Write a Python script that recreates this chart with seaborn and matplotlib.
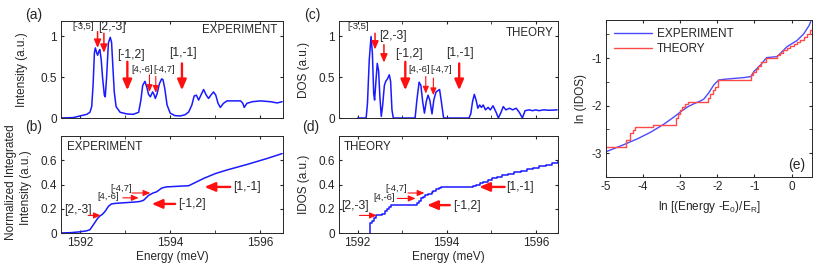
import numpy as np
import seaborn as sns
import matplotlib.pyplot as plt
from matplotlib.ticker import MultipleLocator

# ---- data ----
# (a) measured spectrum
exp_energy = [1591.56, 1591.85, 1592.00, 1592.15, 1592.22, 1592.26, 1592.29, 1592.32, 1592.34, 1592.37,
              1592.39, 1592.42, 1592.44, 1592.47, 1592.50, 1592.54, 1592.56, 1592.59, 1592.63, 1592.67,
              1592.70, 1592.73, 1592.76, 1592.80, 1592.89, 1593.04, 1593.18, 1593.30, 1593.35, 1593.39,
              1593.44, 1593.48, 1593.52, 1593.56, 1593.61, 1593.64, 1593.67, 1593.71, 1593.76, 1593.81,
              1593.84, 1593.88, 1593.93, 1594.00, 1594.10, 1594.22, 1594.33, 1594.41, 1594.48, 1594.53,
              1594.58, 1594.63, 1594.68, 1594.74, 1594.80, 1594.85, 1594.90, 1594.96, 1595.01, 1595.06,
              1595.11, 1595.18, 1595.26, 1595.41, 1595.56, 1595.61, 1595.64, 1595.70, 1595.82, 1596.00,
              1596.22, 1596.37, 1596.48]
exp_intensity = [0.0, 0.005, 0.025, 0.045, 0.07, 0.14, 0.40, 0.80, 0.86, 0.80,
                 0.77, 0.82, 0.84, 0.72, 0.50, 0.28, 0.26, 0.50, 0.92, 0.99,
                 0.93, 0.62, 0.32, 0.14, 0.07, 0.05, 0.045, 0.07, 0.22, 0.40,
                 0.45, 0.38, 0.29, 0.26, 0.32, 0.29, 0.24, 0.30, 0.42, 0.48,
                 0.47, 0.36, 0.16, 0.06, 0.03, 0.025, 0.04, 0.075, 0.16, 0.27,
                 0.28, 0.22, 0.28, 0.35, 0.28, 0.24, 0.28, 0.32, 0.28, 0.18,
                 0.13, 0.18, 0.21, 0.21, 0.21, 0.18, 0.13, 0.18, 0.20, 0.21,
                 0.20, 0.185, 0.20]

# (c) calculated density of states
th_energy = [1592.00, 1592.19, 1592.22, 1592.26, 1592.30, 1592.33, 1592.36, 1592.38, 1592.41, 1592.44,
             1592.47, 1592.50, 1592.53, 1592.56, 1592.60, 1592.63, 1592.67, 1592.71, 1592.74, 1592.77,
             1592.80, 1593.29, 1593.33, 1593.38, 1593.42, 1593.46, 1593.50, 1593.54, 1593.58, 1593.62,
             1593.67, 1593.71, 1593.76, 1593.84, 1593.88, 1593.93, 1594.50, 1594.54, 1594.58, 1594.62,
             1594.66, 1594.70, 1594.74, 1594.78, 1594.82, 1594.87, 1594.93, 1594.98, 1595.04, 1595.11,
             1595.16, 1595.22, 1595.27, 1595.33, 1595.41, 1595.48, 1595.56, 1595.63, 1595.70, 1595.76,
             1595.85, 1595.93, 1596.00, 1596.07, 1596.18, 1596.30, 1596.48]
th_dos = [0.0, 0.0, 0.18, 0.71, 1.0, 0.80, 0.30, 0.22, 0.45, 0.67,
          0.58, 0.25, 0.02, 0.15, 0.40, 0.45, 0.48, 0.53, 0.45, 0.10,
          0.0, 0.0, 0.22, 0.44, 0.40, 0.20, 0.06, 0.20, 0.28, 0.22,
          0.05, 0.22, 0.32, 0.35, 0.20, 0.0, 0.0, 0.05, 0.20, 0.29,
          0.22, 0.12, 0.16, 0.13, 0.16, 0.10, 0.13, 0.10, 0.15, 0.07,
          0.0, 0.07, 0.14, 0.10, 0.12, 0.10, 0.12, 0.07, 0.0, 0.09,
          0.10, 0.09, 0.10, 0.09, 0.10, 0.095, 0.10]

# (b) normalized integrated intensity
int_energy = [1591.56, 1591.80, 1592.00, 1592.15, 1592.22, 1592.30, 1592.39, 1592.44, 1592.50, 1592.56,
              1592.63, 1592.70, 1592.80, 1593.00, 1593.20, 1593.33, 1593.41, 1593.52, 1593.62, 1593.70,
              1593.81, 1593.91, 1594.15, 1594.41, 1594.52, 1594.74, 1595.00, 1595.26, 1595.70, 1596.15,
              1596.48]
int_intensity = [0.0, 0.003, 0.01, 0.018, 0.027, 0.07, 0.12, 0.14, 0.155, 0.18,
                 0.22, 0.24, 0.245, 0.25, 0.255, 0.26, 0.27, 0.31, 0.33, 0.34,
                 0.37, 0.38, 0.385, 0.39, 0.41, 0.45, 0.49, 0.52, 0.565, 0.615,
                 0.655]

# (d) calculated integrated DOS (staircase)
idos_energy = [1592.27, 1592.27, 1592.32, 1592.36, 1592.42, 1592.54, 1592.62, 1592.65, 1592.70, 1592.74,
               1593.34, 1593.38, 1593.43, 1593.46, 1593.52, 1593.57, 1593.66, 1593.70, 1593.76, 1593.82,
               1593.88, 1594.60, 1594.66, 1594.74, 1594.82, 1594.92, 1595.02, 1595.12, 1595.24, 1595.38,
               1595.52, 1595.66, 1595.80, 1595.94, 1596.08, 1596.22, 1596.36, 1596.50]
idos = [0.0, 0.08, 0.10, 0.12, 0.145, 0.16, 0.18, 0.20, 0.215, 0.235,
        0.25, 0.265, 0.285, 0.30, 0.31, 0.325, 0.335, 0.35, 0.36, 0.37,
        0.38, 0.39, 0.40, 0.41, 0.42, 0.435, 0.45, 0.465, 0.475, 0.49,
        0.50, 0.515, 0.525, 0.54, 0.55, 0.565, 0.58, 0.59]

# (e) log-log integrated DOS
ln_e_exp = [-5.0, -4.52, -4.16, -3.80, -3.44, -3.17, -2.99, -2.81, -2.63, -2.45,
            -2.36, -2.23, -2.09, -1.96, -1.73, -1.28, -1.10, -1.01, -0.83, -0.67,
            -0.39, -0.30, -0.12, 0.15, 0.33, 0.47, 0.52]
ln_idos_exp = [-2.97, -2.82, -2.70, -2.56, -2.39, -2.24, -2.13, -2.03, -1.96, -1.90,
               -1.86, -1.73, -1.56, -1.46, -1.44, -1.41, -1.39, -1.28, -1.14, -0.99,
               -0.97, -0.90, -0.76, -0.63, -0.49, -0.32, -0.23]
ln_e_th = [-5.0, -4.46, -4.34, -4.28, -4.22, -3.74, -3.11, -3.06, -3.00, -2.94,
           -2.86, -2.80, -2.25, -2.19, -2.12, -2.06, -1.98, -1.08, -1.03, -0.96,
           -0.90, -0.82, -0.70, -0.38, -0.30, -0.22, -0.12, -0.03, 0.06, 0.15,
           0.24, 0.33, 0.42, 0.50, 0.56]
ln_idos_th = [-2.87, -2.73, -2.58, -2.52, -2.44, -2.40, -2.26, -2.18, -2.10, -2.03,
              -1.97, -1.93, -1.84, -1.76, -1.68, -1.60, -1.46, -1.36, -1.29, -1.24,
              -1.17, -1.09, -0.99, -0.94, -0.90, -0.84, -0.79, -0.74, -0.70, -0.66,
              -0.61, -0.56, -0.49, -0.42, -0.40]

# peak labels and where they sit
labels_top = ['[-3,5]', '[2,-3]', '[-1,2]', '[4,-6]', '[-4,7]', '[1,-1]']
label_size_top = ['s', 'b', 'b', 's', 's', 'b']
arrow_size_top = ['m', 'm', 'b', 's', 's', 'b']
# (text x, text y, arrow x, arrow from y, arrow to y)
ann_a = [(1592.07, 1.12, 1592.39, 1.06, 0.86), (1592.70, 1.12, 1592.53, 1.04, 0.80),
         (1593.12, 0.77, 1593.05, 0.69, 0.34), (1593.38, 0.59, 1593.54, 0.53, 0.32),
         (1593.87, 0.59, 1593.68, 0.51, 0.31), (1594.29, 0.80, 1594.26, 0.67, 0.34)]
ann_c = [(1592.02, 1.12, 1592.39, 1.04, 0.84), (1592.80, 1.00, 1592.59, 0.90, 0.68),
         (1593.15, 0.79, 1593.07, 0.69, 0.34), (1593.38, 0.59, 1593.53, 0.51, 0.30),
         (1593.88, 0.59, 1593.70, 0.49, 0.28), (1594.29, 0.80, 1594.28, 0.67, 0.34)]

labels_bot = ['[2,-3]', '[4,-6]', '[-4,7]', '[-1,2]', '[1,-1]']
label_size_bot = ['b', 's', 's', 'b', 'b']
arrow_size_bot = ['s', 's', 's', 'b', 'b']
# (text x, text y, arrow y, arrow from x, arrow to x)
ann_b = [(1591.96, 0.19, 0.145, 1592.18, 1592.46), (1592.63, 0.30, 0.29, 1592.95, 1593.30),
         (1592.91, 0.37, 0.33, 1593.15, 1593.56), (1594.48, 0.24, 0.24, 1594.11, 1593.59),
         (1595.70, 0.38, 0.38, 1595.33, 1594.76)]
ann_d = [(1591.94, 0.22, 0.145, 1592.04, 1592.43), (1592.59, 0.29, 0.285, 1592.89, 1593.30),
         (1592.87, 0.37, 0.33, 1593.13, 1593.50), (1594.45, 0.225, 0.23, 1594.07, 1593.56),
         (1595.64, 0.38, 0.38, 1595.30, 1594.73)]

# ---- style ----
sns.set_style("ticks")
plt.rcParams['font.family'] = ['Liberation Sans', 'DejaVu Sans']
plt.rcParams['axes.unicode_minus'] = False
plt.rcParams['mathtext.default'] = 'regular'
plt.rcParams['xtick.direction'] = 'in'
plt.rcParams['ytick.direction'] = 'in'
plt.rcParams['xtick.top'] = True
plt.rcParams['ytick.right'] = True
plt.rcParams['xtick.major.size'] = 2.5
plt.rcParams['ytick.major.size'] = 2.5
plt.rcParams['xtick.minor.size'] = 2.5
plt.rcParams['ytick.minor.size'] = 2.5
plt.rcParams['xtick.major.pad'] = 3
plt.rcParams['ytick.major.pad'] = 3
plt.rcParams['axes.linewidth'] = 0.7
plt.rcParams['xtick.labelsize'] = 8.5
plt.rcParams['ytick.labelsize'] = 8.5
plt.rcParams['axes.labelsize'] = 8.5

BLUE = '#1a1aff'
RED = '#ff1010'
FS = {'s': 6.8, 'b': 8.8}
ARW = {'s': (0.8, 6), 'm': (1.1, 7), 'b': (1.7, 9)}

fig = plt.figure(figsize=(8.17, 2.69), dpi=100)
ax_a = fig.add_axes([0.0747, 0.5613, 0.2717, 0.3606])
ax_b = fig.add_axes([0.0747, 0.1338, 0.2717, 0.3606])
ax_c = fig.add_axes([0.4149, 0.5613, 0.2681, 0.3606])
ax_d = fig.add_axes([0.4149, 0.1338, 0.2681, 0.3606])
ax_e = fig.add_axes([0.7417, 0.3420, 0.2521, 0.5836])


def arrow(ax, tail, head, size):
    lw, ms = ARW[size]
    ax.annotate('', xy=head, xytext=tail,
                arrowprops=dict(arrowstyle='-|>,head_length=0.7,head_width=0.3',
                                color=RED, lw=lw, mutation_scale=ms,
                                shrinkA=0, shrinkB=0))


def energy_axis(ax, ylim, yticks, ylabels, show_x):
    ax.set_xlim(1591.58, 1596.5)
    ax.set_ylim(*ylim)
    ax.set_xticks([1592, 1594, 1596])
    ax.xaxis.set_minor_locator(MultipleLocator(1))
    ax.set_yticks(yticks)
    ax.set_yticklabels(ylabels)
    if show_x:
        ax.set_xticklabels(['1592', '1594', '1596'])
        ax.set_xlabel('Energy (meV)', labelpad=1)
    else:
        ax.set_xticklabels([])
        ax.set_xlabel('')


# (a) experiment spectrum
sns.lineplot(x=exp_energy, y=exp_intensity, ax=ax_a, color=BLUE, lw=1.1, estimator=None, sort=False)
energy_axis(ax_a, (0, 1.19), [0, 0.5, 1], ['0', '0.5', '1'], False)
ax_a.set_ylabel('Intensity (a.u.)')
ax_a.yaxis.set_label_coords(-0.15, 0.5)
ax_a.text(0.975, 0.905, 'EXPERIMENT', transform=ax_a.transAxes, ha='right', va='center', fontsize=8.3)
for lab, ls, asz, (tx, ty, axx, y0, y1) in zip(labels_top, label_size_top, arrow_size_top, ann_a):
    ax_a.text(tx, ty, lab, ha='center', va='center', fontsize=FS[ls])
    arrow(ax_a, (axx, y0), (axx, y1), asz)

# (c) theory DOS
sns.lineplot(x=th_energy, y=th_dos, ax=ax_c, color=BLUE, lw=1.1, estimator=None, sort=False)
energy_axis(ax_c, (0, 1.19), [0, 0.5, 1], ['0', '0.5', '1'], False)
ax_c.set_ylabel('DOS (a.u.)')
ax_c.yaxis.set_label_coords(-0.13, 0.5)
ax_c.text(0.98, 0.876, 'THEORY', transform=ax_c.transAxes, ha='right', va='center', fontsize=8.3)
for lab, ls, asz, (tx, ty, axx, y0, y1) in zip(labels_top, label_size_top, arrow_size_top, ann_c):
    ax_c.text(tx, ty, lab, ha='center', va='center', fontsize=FS[ls])
    arrow(ax_c, (axx, y0), (axx, y1), asz)

# (b) integrated intensity
sns.lineplot(x=int_energy, y=int_intensity, ax=ax_b, color=BLUE, lw=1.1, estimator=None, sort=False)
energy_axis(ax_b, (0, 0.8), [0, 0.2, 0.4, 0.6], ['0', '0.2', '0.4', '0.6'], True)
ax_b.set_ylabel('')
# two-line y label written as two rotated texts
ax_b.text(-0.225, 0.52, 'Normalized Integrated', transform=ax_b.transAxes, rotation=90,
          ha='center', va='center', fontsize=8.5)
ax_b.text(-0.16, 0.47, 'Intensity (a.u.)', transform=ax_b.transAxes, rotation=90,
          ha='center', va='center', fontsize=8.5)
ax_b.text(0.025, 0.89, 'EXPERIMENT', transform=ax_b.transAxes, ha='left', va='center', fontsize=8.3)
for lab, ls, asz, (tx, ty, ay, x0, x1) in zip(labels_bot, label_size_bot, arrow_size_bot, ann_b):
    ax_b.text(tx, ty, lab, ha='center', va='center', fontsize=FS[ls])
    arrow(ax_b, (x0, ay), (x1, ay), asz)

# (d) theory IDOS
sns.lineplot(x=idos_energy, y=idos, ax=ax_d, color=BLUE, lw=1.1, estimator=None, sort=False,
             drawstyle='steps-post')
energy_axis(ax_d, (0, 0.8), [0, 0.2, 0.4, 0.6], ['0', '0.2', '0.4', '0.6'], True)
ax_d.set_ylabel('IDOS (a.u.)')
ax_d.yaxis.set_label_coords(-0.13, 0.5)
ax_d.text(0.02, 0.89, 'THEORY', transform=ax_d.transAxes, ha='left', va='center', fontsize=8.3)
for lab, ls, asz, (tx, ty, ay, x0, x1) in zip(labels_bot, label_size_bot, arrow_size_bot, ann_d):
    ax_d.text(tx, ty, lab, ha='center', va='center', fontsize=FS[ls])
    arrow(ax_d, (x0, ay), (x1, ay), asz)

# (e) log-log comparison
sns.lineplot(x=ln_e_exp, y=ln_idos_exp, ax=ax_e, color='#4a4aff', lw=1.0, estimator=None, sort=False,
             label='EXPERIMENT')
sns.lineplot(x=ln_e_th, y=ln_idos_th, ax=ax_e, color='#ff4a4a', lw=1.0, estimator=None, sort=False,
             drawstyle='steps-post', label='THEORY')
ax_e.set_xlim(-5, 0.55)
ax_e.set_ylim(-3.5, -0.2)
ax_e.set_xticks([-5, -4, -3, -2, -1, 0])
ax_e.set_xticklabels(['-5', '-4', '-3', '-2', '-1', '0'])
ax_e.set_yticks([-3, -2, -1])
ax_e.set_yticklabels(['-3', '-2', '-1'])
ax_e.yaxis.set_minor_locator(MultipleLocator(0.5))
ax_e.set_xlabel('ln [(Energy -E$_0$)/E$_R$]', labelpad=4)
ax_e.set_ylabel('ln (IDOS)')
ax_e.yaxis.set_label_coords(-0.09, 0.5)
ax_e.legend(loc='upper left', frameon=False, fontsize=8.5, handlelength=3.2,
            borderaxespad=0.3, labelspacing=0.2, handletextpad=0.4)
ax_e.text(0.927, 0.076, '(e)', transform=ax_e.transAxes, ha='center', va='center', fontsize=10)

# panel letters
for lab, (px, py) in zip(['(a)', '(b)', '(c)', '(d)'], [(34, 15), (34, 127), (312, 15), (311, 127)]):
    fig.text(px / 817, 1 - py / 269, lab, ha='center', va='center', fontsize=10)

fig.savefig('out.png', dpi=100)
